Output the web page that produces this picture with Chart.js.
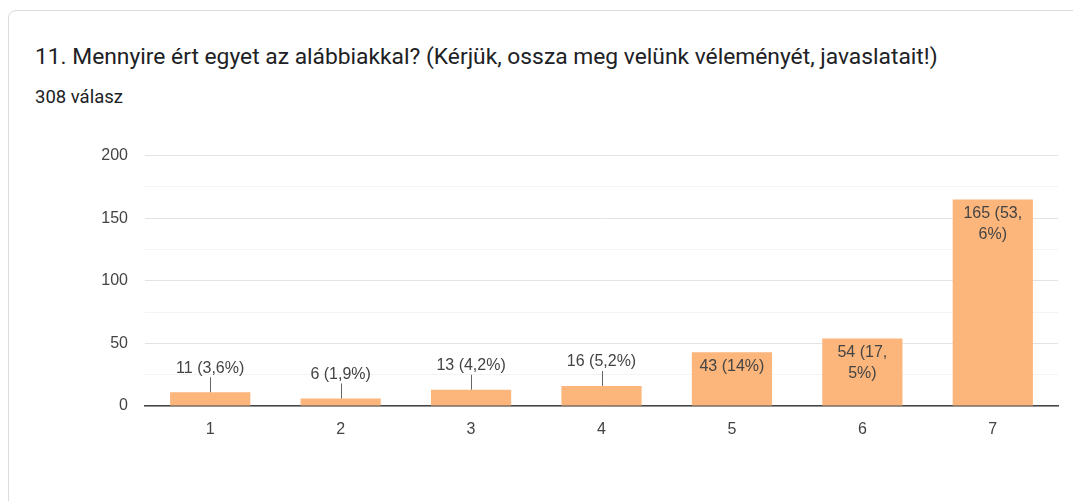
<!DOCTYPE html>
<html>
<head>
<meta charset="utf-8">
<script src="https://cdn.jsdelivr.net/npm/chart.js@4"></script>
<style>
  html, body { margin: 0; padding: 0; background: #fff; }
  body { width: 1073px; height: 501px; position: relative; overflow: hidden; }
  .card {
    position: absolute; left: 8px; top: 10px; width: 1100px; height: 520px;
    border: 1px solid #dadce0; border-radius: 8px; box-sizing: border-box;
  }
  .title {
    position: absolute; left: 35px; top: 43px;
    font: 22.8px Roboto, Arial, sans-serif; color: #202124; white-space: nowrap;
  }
  .subtitle {
    position: absolute; left: 35px; top: 86px;
    font: 18.5px Roboto, Arial, sans-serif; color: #202124;
  }
  #chart { position: absolute; left: 0; top: 129px; }
</style>
</head>
<body>
<div class="card"></div>
<div class="title">11. Mennyire ért egyet az alábbiakkal? (Kérjük, ossza meg velünk véleményét, javaslatait!)</div>
<div class="subtitle">308 válasz</div>
<canvas id="chart" width="1073" height="311"></canvas>
<script>
const categories = ['1', '2', '3', '4', '5', '6', '7'];
const counts = [11, 6, 13, 16, 43, 54, 165];
const percents = ['3,6', '1,9', '4,2', '5,2', '14', '17,5', '53,6'];
const yTicks = [0, 50, 100, 150, 200];

const barColor = '#fcb57a';
const textColor = '#444';
const labelFont = '16px Arial, "Liberation Sans", sans-serif';

function wrapText(ctx, text, maxW) {
  const pieces = text.match(/[^\s,]+[\s,]?/g);
  const lines = [];
  let line = '';
  pieces.forEach((p) => {
    const test = line + p;
    if (line && ctx.measureText(test.trim()).width > maxW) {
      lines.push(line.trim());
      line = p;
    } else {
      line = test;
    }
  });
  if (line) lines.push(line.trim());
  return lines;
}

// value labels: inside the bar when it is tall, else above with a leader line
const barLabels = {
  id: 'barLabels',
  afterDatasetsDraw(chart) {
    const ctx = chart.ctx;
    const meta = chart.getDatasetMeta(0);
    ctx.save();
    ctx.font = labelFont;
    ctx.fillStyle = textColor;
    ctx.strokeStyle = '#666';
    ctx.lineWidth = 1;
    ctx.textAlign = 'center';
    ctx.textBaseline = 'middle';
    meta.data.forEach((bar, i) => {
      const text = counts[i] + ' (' + percents[i] + '%)';
      const h = bar.base - bar.y;
      if (h > 40) {
        const lines = wrapText(ctx, text, bar.width - 10);
        lines.forEach((l, k) => ctx.fillText(l, bar.x, bar.y + 14 + k * 21));
      } else {
        ctx.fillText(text, bar.x, bar.y - 24);
        ctx.beginPath();
        ctx.moveTo(Math.round(bar.x) + 0.5, bar.y - 15);
        ctx.lineTo(Math.round(bar.x) + 0.5, bar.y);
        ctx.stroke();
      }
    });
    ctx.restore();
  }
};

new Chart(document.getElementById('chart'), {
  type: 'bar',
  data: {
    labels: categories,
    datasets: [{
      data: counts,
      backgroundColor: barColor,
      barPercentage: 0.615,
      categoryPercentage: 1
    }]
  },
  options: {
    responsive: false,
    animation: false,
    layout: { padding: { top: 0, right: 15, left: 0, bottom: 0 } },
    plugins: { legend: { display: false }, tooltip: { enabled: false } },
    scales: {
      x: {
        grid: { display: false },
        border: { color: '#444', width: 1.5 },
        ticks: { color: textColor, font: { size: 16, family: 'Arial' }, padding: 6 },
        afterFit(scale) { scale.height = 34; }
      },
      y: {
        min: yTicks[0],
        max: yTicks[yTicks.length - 1],
        border: { display: false },
        grid: {
          drawTicks: false,
          color: (c) => (c.tick && c.tick.value % 50 === 0 ? '#e3e3e3' : '#f3f3f3')
        },
        ticks: {
          stepSize: 25,
          color: textColor,
          font: { size: 16, family: 'Arial' },
          padding: 17,
          callback: (v) => (yTicks.includes(v) ? v : '')
        },
        afterFit(scale) { scale.width = 145; }
      }
    }
  },
  plugins: [barLabels]
});
</script>
</body>
</html>
